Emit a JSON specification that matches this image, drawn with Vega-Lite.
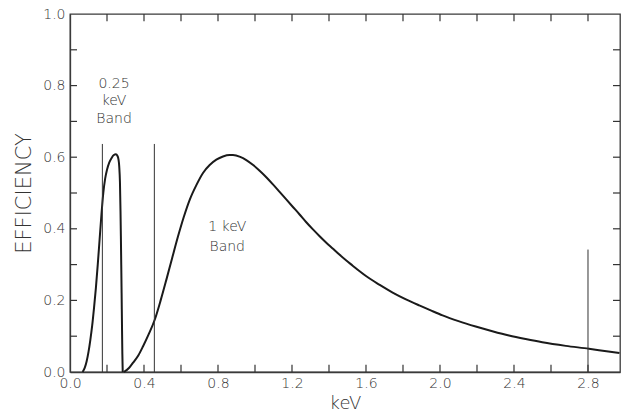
{
  "$schema": "https://vega.github.io/schema/vega-lite/v6.json",
  "autosize": {"type": "none"},
  "width": 550,
  "height": 358,
  "padding": {"left": 70, "top": 14, "right": 4, "bottom": 45},
  "background": "white",
  "config": {
    "view": {"stroke": "#3a3a3a", "strokeWidth": 1.3},
    "axis": {
      "grid": false,
      "domainColor": "#3a3a3a",
      "domainWidth": 1.3,
      "labelFont": "DejaVu Sans",
      "labelFontWeight": 200,
      "labelFontSize": 14,
      "labelColor": "#333",
      "titleFont": "DejaVu Sans",
      "titleFontWeight": 200,
      "titleColor": "#333"
    }
  },
  "datasets": {
    "curve": [
      {"s": "a", "kev": 0.068, "eff": 0},
      {"s": "a", "kev": 0.08, "eff": 0.012},
      {"s": "a", "kev": 0.09, "eff": 0.03},
      {"s": "a", "kev": 0.1, "eff": 0.056},
      {"s": "a", "kev": 0.11, "eff": 0.09},
      {"s": "a", "kev": 0.12, "eff": 0.13},
      {"s": "a", "kev": 0.13, "eff": 0.18},
      {"s": "a", "kev": 0.14, "eff": 0.235},
      {"s": "a", "kev": 0.15, "eff": 0.3},
      {"s": "a", "kev": 0.16, "eff": 0.37},
      {"s": "a", "kev": 0.17, "eff": 0.44},
      {"s": "a", "kev": 0.18, "eff": 0.5},
      {"s": "a", "kev": 0.19, "eff": 0.54},
      {"s": "a", "kev": 0.2, "eff": 0.565},
      {"s": "a", "kev": 0.212, "eff": 0.585},
      {"s": "a", "kev": 0.225, "eff": 0.598},
      {"s": "a", "kev": 0.237, "eff": 0.606},
      {"s": "a", "kev": 0.248, "eff": 0.608},
      {"s": "a", "kev": 0.256, "eff": 0.604},
      {"s": "a", "kev": 0.262, "eff": 0.594},
      {"s": "a", "kev": 0.266, "eff": 0.575},
      {"s": "a", "kev": 0.27, "eff": 0.53},
      {"s": "a", "kev": 0.273, "eff": 0.45},
      {"s": "a", "kev": 0.275, "eff": 0.38},
      {"s": "a", "kev": 0.277, "eff": 0.3},
      {"s": "a", "kev": 0.279, "eff": 0.22},
      {"s": "a", "kev": 0.281, "eff": 0.13},
      {"s": "a", "kev": 0.283, "eff": 0.05},
      {"s": "a", "kev": 0.285, "eff": 0},
      {"s": "b", "kev": 0.291, "eff": 0},
      {"s": "b", "kev": 0.32, "eff": 0.012},
      {"s": "b", "kev": 0.341, "eff": 0.026},
      {"s": "b", "kev": 0.37, "eff": 0.047},
      {"s": "b", "kev": 0.395, "eff": 0.072},
      {"s": "b", "kev": 0.425, "eff": 0.105},
      {"s": "b", "kev": 0.458, "eff": 0.146},
      {"s": "b", "kev": 0.49, "eff": 0.2},
      {"s": "b", "kev": 0.521, "eff": 0.258},
      {"s": "b", "kev": 0.552, "eff": 0.318},
      {"s": "b", "kev": 0.584, "eff": 0.379},
      {"s": "b", "kev": 0.615, "eff": 0.433},
      {"s": "b", "kev": 0.647, "eff": 0.481},
      {"s": "b", "kev": 0.683, "eff": 0.522},
      {"s": "b", "kev": 0.719, "eff": 0.556},
      {"s": "b", "kev": 0.755, "eff": 0.578},
      {"s": "b", "kev": 0.791, "eff": 0.593},
      {"s": "b", "kev": 0.827, "eff": 0.602},
      {"s": "b", "kev": 0.863, "eff": 0.606},
      {"s": "b", "kev": 0.881, "eff": 0.606},
      {"s": "b", "kev": 0.92, "eff": 0.601},
      {"s": "b", "kev": 0.953, "eff": 0.592},
      {"s": "b", "kev": 0.99, "eff": 0.578},
      {"s": "b", "kev": 1.025, "eff": 0.562},
      {"s": "b", "kev": 1.061, "eff": 0.544},
      {"s": "b", "kev": 1.097, "eff": 0.524},
      {"s": "b", "kev": 1.133, "eff": 0.503},
      {"s": "b", "kev": 1.169, "eff": 0.482},
      {"s": "b", "kev": 1.205, "eff": 0.461},
      {"s": "b", "kev": 1.241, "eff": 0.44},
      {"s": "b", "kev": 1.276, "eff": 0.419},
      {"s": "b", "kev": 1.312, "eff": 0.399},
      {"s": "b", "kev": 1.348, "eff": 0.38},
      {"s": "b", "kev": 1.384, "eff": 0.362},
      {"s": "b", "kev": 1.42, "eff": 0.345},
      {"s": "b", "kev": 1.456, "eff": 0.328},
      {"s": "b", "kev": 1.492, "eff": 0.312},
      {"s": "b", "kev": 1.528, "eff": 0.297},
      {"s": "b", "kev": 1.564, "eff": 0.282},
      {"s": "b", "kev": 1.6, "eff": 0.268},
      {"s": "b", "kev": 1.672, "eff": 0.244},
      {"s": "b", "kev": 1.744, "eff": 0.222},
      {"s": "b", "kev": 1.816, "eff": 0.203},
      {"s": "b", "kev": 1.888, "eff": 0.186},
      {"s": "b", "kev": 1.95, "eff": 0.172},
      {"s": "b", "kev": 2.014, "eff": 0.158},
      {"s": "b", "kev": 2.1, "eff": 0.142},
      {"s": "b", "kev": 2.193, "eff": 0.127},
      {"s": "b", "kev": 2.283, "eff": 0.114},
      {"s": "b", "kev": 2.373, "eff": 0.102},
      {"s": "b", "kev": 2.463, "eff": 0.092},
      {"s": "b", "kev": 2.553, "eff": 0.083},
      {"s": "b", "kev": 2.68, "eff": 0.073},
      {"s": "b", "kev": 2.805, "eff": 0.065},
      {"s": "b", "kev": 2.9, "eff": 0.058},
      {"s": "b", "kev": 2.97, "eff": 0.053}
    ],
    "bands": [
      {"kev": 0.175, "bottom": 0, "top": 0.637},
      {"kev": 0.456, "bottom": 0, "top": 0.637},
      {"kev": 2.8, "bottom": 0, "top": 0.342}
    ],
    "labels": [
      {"kev": 0.238, "eff": 0.805, "text": "0.25"},
      {"kev": 0.238, "eff": 0.757, "text": "keV"},
      {"kev": 0.238, "eff": 0.707, "text": "Band"},
      {"kev": 0.85, "eff": 0.406, "text": "1 keV"},
      {"kev": 0.85, "eff": 0.35, "text": "Band"}
    ],
    "xticks": [
      {"v": 0.2}, {"v": 0.4}, {"v": 0.6}, {"v": 0.8}, {"v": 1.0}, {"v": 1.2}, {"v": 1.4},
      {"v": 1.6}, {"v": 1.8}, {"v": 2.0}, {"v": 2.2}, {"v": 2.4}, {"v": 2.6}, {"v": 2.8}
    ],
    "yticks": [
      {"v": 0.1}, {"v": 0.2}, {"v": 0.3}, {"v": 0.4}, {"v": 0.5},
      {"v": 0.6}, {"v": 0.7}, {"v": 0.8}, {"v": 0.9}
    ]
  },
  "layer": [
    {
      "data": {"name": "curve"},
      "mark": {"type": "line", "color": "#1a1a1a", "strokeWidth": 2, "interpolate": "monotone"},
      "encoding": {
        "x": {
          "field": "kev", "type": "quantitative",
          "scale": {"domain": [0, 2.973], "nice": false, "zero": false},
          "axis": {
            "orient": "bottom",
            "title": "keV",
            "titleFontSize": 18,
            "titlePadding": 4,
            "values": [0, 0.4, 0.8, 1.2, 1.6, 2.0, 2.4, 2.8],
            "format": ".1f",
            "ticks": false,
            "tickSize": 0,
            "labelPadding": 4,
            "labelFlush": false
          }
        },
        "y": {
          "field": "eff", "type": "quantitative",
          "scale": {"domain": [0, 1], "nice": false, "zero": false},
          "axis": {
            "orient": "left",
            "title": "EFFICIENCY",
            "titleFontSize": 21,
            "titlePadding": 8,
            "values": [0, 0.2, 0.4, 0.6, 0.8, 1.0],
            "format": ".1f",
            "ticks": false,
            "tickSize": 0,
            "labelPadding": 5
          }
        },
        "detail": {"field": "s"}
      }
    },
    {
      "data": {"name": "bands"},
      "mark": {"type": "rule", "color": "#333", "strokeWidth": 1},
      "encoding": {
        "x": {"field": "kev", "type": "quantitative"},
        "y": {"field": "bottom", "type": "quantitative"},
        "y2": {"field": "top"}
      }
    },
    {
      "data": {"name": "xticks"},
      "mark": {"type": "rule", "color": "#333", "strokeWidth": 1.2},
      "encoding": {
        "x": {"field": "v", "type": "quantitative"},
        "y": {"datum": 0, "type": "quantitative"},
        "y2": {"datum": 0.02}
      }
    },
    {
      "data": {"name": "xticks"},
      "mark": {"type": "rule", "color": "#333", "strokeWidth": 1.2},
      "encoding": {
        "x": {"field": "v", "type": "quantitative"},
        "y": {"datum": 0.98, "type": "quantitative"},
        "y2": {"datum": 1}
      }
    },
    {
      "data": {"name": "yticks"},
      "mark": {"type": "rule", "color": "#333", "strokeWidth": 1.2},
      "encoding": {
        "y": {"field": "v", "type": "quantitative"},
        "x": {"datum": 0, "type": "quantitative"},
        "x2": {"datum": 0.038}
      }
    },
    {
      "data": {"name": "yticks"},
      "mark": {"type": "rule", "color": "#333", "strokeWidth": 1.2},
      "encoding": {
        "y": {"field": "v", "type": "quantitative"},
        "x": {"datum": 2.935, "type": "quantitative"},
        "x2": {"datum": 2.973}
      }
    },
    {
      "data": {"name": "labels"},
      "mark": {"type": "text", "font": "DejaVu Sans", "fontWeight": 200, "fontSize": 14, "color": "#333", "align": "center", "baseline": "middle"},
      "encoding": {
        "x": {"field": "kev", "type": "quantitative"},
        "y": {"field": "eff", "type": "quantitative"},
        "text": {"field": "text"}
      }
    }
  ]
}
